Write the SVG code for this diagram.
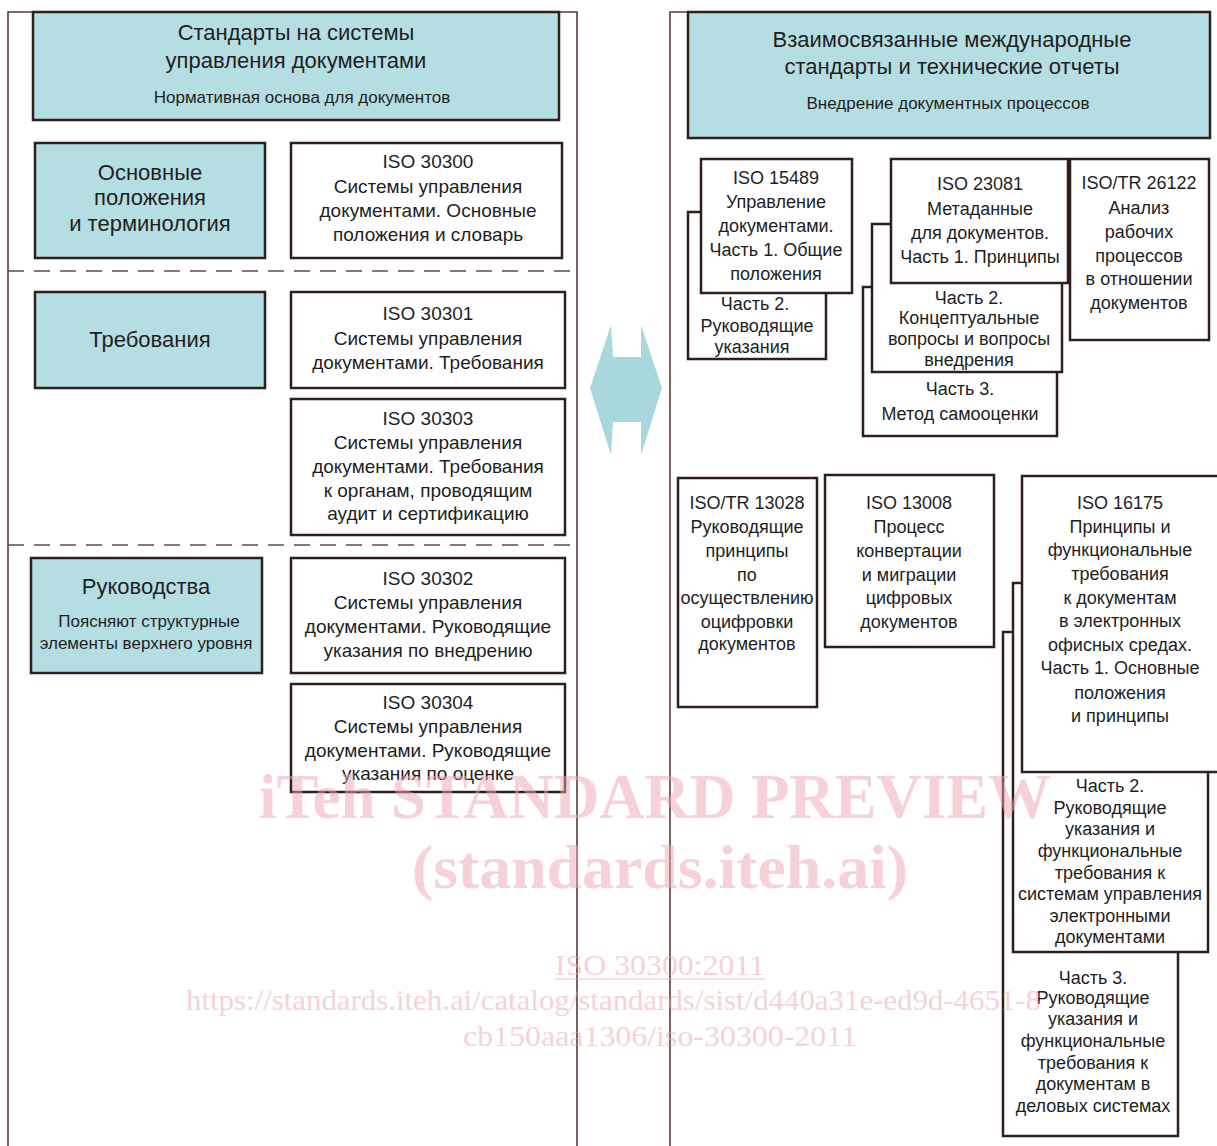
<svg xmlns="http://www.w3.org/2000/svg" width="1217" height="1146" viewBox="0 0 1217 1146">
<style>
.bg{fill:#ffffff}
.frame{fill:none;stroke:#5a3a34;stroke-width:1.6}
.dash{fill:none;stroke:#5a4c4a;stroke-width:1.6;stroke-dasharray:16 10}
.teal{fill:#b5dee2;stroke:#2e1f1c;stroke-width:2.5}
.box{fill:#ffffff;stroke:#2e1f1c;stroke-width:2.5}
text{font-family:"Liberation Sans",Arial,sans-serif;fill:#1e1e1e;text-anchor:middle}
.h{font-size:22px}
.s{font-size:17px}
.t{font-size:19px}
.r{font-size:18px}
.arrow{fill:#a8d8dd}
.wm{font-family:"Liberation Serif","Times New Roman",serif;fill:#eea7b2;opacity:0.5}
.wmb{font-weight:bold}
</style>
<rect class="bg" x="0" y="0" width="1217" height="1146"/>

<g id="frames">
  <path class="frame" d="M8,1146 V12 H33"/>
  <path class="frame" d="M559,12 H577 V1146"/>
  <path class="frame" d="M670,1146 V12 H688"/>
  <line class="dash" x1="8" y1="271" x2="577" y2="271"/>
  <line class="dash" x1="8" y1="545" x2="577" y2="545"/>
</g>

<g id="left-header">
  <rect class="teal" x="33" y="12" width="526" height="108"/>
  <text class="h" x="296" y="40">Стандарты на системы</text>
  <text class="h" x="296" y="68">управления документами</text>
  <text class="s" x="302" y="103">Нормативная основа для документов</text>
</g>

<g id="basics">
  <rect class="teal" x="35" y="143" width="230" height="115"/>
  <text class="h" x="150" y="180">Основные</text>
  <text class="h" x="150" y="205">положения</text>
  <text class="h" x="150" y="231">и терминология</text>
</g>

<g id="iso30300">
  <rect class="box" x="291" y="143" width="271" height="115"/>
  <text class="t" x="428" y="168">ISO 30300</text>
  <text class="t" x="428" y="193">Системы управления</text>
  <text class="t" x="428" y="217">документами. Основные</text>
  <text class="t" x="428" y="241">положения и словарь</text>
</g>

<g id="requirements">
  <rect class="teal" x="35" y="292" width="230" height="96"/>
  <text class="h" x="150" y="347">Требования</text>
</g>

<g id="iso30301">
  <rect class="box" x="291" y="292" width="274" height="96"/>
  <text class="t" x="428" y="320">ISO 30301</text>
  <text class="t" x="428" y="345">Системы управления</text>
  <text class="t" x="428" y="369">документами. Требования</text>
</g>

<g id="iso30303">
  <rect class="box" x="291" y="399" width="274" height="136"/>
  <text class="t" x="428" y="425">ISO 30303</text>
  <text class="t" x="428" y="449">Системы управления</text>
  <text class="t" x="428" y="473">документами. Требования</text>
  <text class="t" x="428" y="497">к органам, проводящим</text>
  <text class="t" x="428" y="520">аудит и сертификацию</text>
</g>

<g id="guides">
  <rect class="teal" x="31" y="558" width="231" height="115"/>
  <text class="h" x="146" y="594">Руководства</text>
  <text class="s" x="149" y="627">Поясняют структурные</text>
  <text class="s" x="146" y="649">элементы верхнего уровня</text>
</g>

<g id="iso30302">
  <rect class="box" x="291" y="558" width="274" height="115"/>
  <text class="t" x="428" y="585">ISO 30302</text>
  <text class="t" x="428" y="609">Системы управления</text>
  <text class="t" x="428" y="633">документами. Руководящие</text>
  <text class="t" x="428" y="657">указания по внедрению</text>
</g>

<g id="iso30304">
  <rect class="box" x="291" y="684" width="274" height="108"/>
  <text class="t" x="428" y="709">ISO 30304</text>
  <text class="t" x="428" y="733">Системы управления</text>
  <text class="t" x="428" y="757">документами. Руководящие</text>
  <text class="t" x="428" y="780">указания по оценке</text>
</g>

<g id="right-header">
  <rect class="teal" x="688" y="12" width="522" height="126"/>
  <text class="h" x="952" y="47">Взаимосвязанные международные</text>
  <text class="h" x="952" y="74">стандарты и технические отчеты</text>
  <text class="s" x="948" y="109">Внедрение документных процессов</text>
</g>

<g id="iso15489-part2">
  <rect class="box" x="688" y="212" width="138" height="147"/>
  <text class="r" x="755" y="310">Часть 2.</text>
  <text class="r" x="757" y="332">Руководящие</text>
  <text class="r" x="752" y="353">указания</text>
</g>
<g id="iso15489">
  <rect class="box" x="701" y="159" width="151" height="134"/>
  <text class="r" x="776" y="184">ISO 15489</text>
  <text class="r" x="776" y="208">Управление</text>
  <text class="r" x="776" y="232">документами.</text>
  <text class="r" x="776" y="256">Часть 1. Общие</text>
  <text class="r" x="776" y="280">положения</text>
</g>

<g id="iso23081-part3">
  <rect class="box" x="863" y="287" width="194" height="149"/>
  <text class="r" x="960" y="395">Часть 3.</text>
  <text class="r" x="960" y="420">Метод самооценки</text>
</g>
<g id="iso23081-part2">
  <rect class="box" x="872" y="224" width="190" height="148"/>
  <text class="r" x="969" y="304">Часть 2.</text>
  <text class="r" x="969" y="324">Концептуальные</text>
  <text class="r" x="969" y="345">вопросы и вопросы</text>
  <text class="r" x="969" y="366">внедрения</text>
</g>
<g id="iso23081">
  <rect class="box" x="891" y="159" width="177" height="124"/>
  <text class="r" x="980" y="190">ISO 23081</text>
  <text class="r" x="980" y="215">Метаданные</text>
  <text class="r" x="980" y="239">для документов.</text>
  <text class="r" x="980" y="263">Часть 1. Принципы</text>
</g>

<g id="isotr26122">
  <rect class="box" x="1070" y="159" width="139" height="181"/>
  <text class="r" x="1139" y="189">ISO/TR 26122</text>
  <text class="r" x="1139" y="214">Анализ</text>
  <text class="r" x="1139" y="238">рабочих</text>
  <text class="r" x="1139" y="262">процессов</text>
  <text class="r" x="1139" y="285">в отношении</text>
  <text class="r" x="1139" y="309">документов</text>
</g>

<g id="isotr13028">
  <rect class="box" x="678" y="478" width="139" height="229"/>
  <text class="r" x="747" y="509">ISO/TR 13028</text>
  <text class="r" x="747" y="533">Руководящие</text>
  <text class="r" x="747" y="557">принципы</text>
  <text class="r" x="747" y="581">по</text>
  <text class="r" x="747" y="604">осуществлению</text>
  <text class="r" x="747" y="628">оцифровки</text>
  <text class="r" x="747" y="650">документов</text>
</g>

<g id="iso13008">
  <rect class="box" x="825" y="475" width="169" height="172"/>
  <text class="r" x="909" y="509">ISO 13008</text>
  <text class="r" x="909" y="533">Процесс</text>
  <text class="r" x="909" y="557">конвертации</text>
  <text class="r" x="909" y="581">и миграции</text>
  <text class="r" x="909" y="604">цифровых</text>
  <text class="r" x="909" y="628">документов</text>
</g>

<g id="iso16175-part3">
  <rect class="box" x="1003" y="632" width="175" height="504"/>
  <text class="r" x="1093" y="984">Часть 3.</text>
  <text class="r" x="1093" y="1004">Руководящие</text>
  <text class="r" x="1093" y="1025">указания и</text>
  <text class="r" x="1093" y="1047">функциональные</text>
  <text class="r" x="1093" y="1069">требования к</text>
  <text class="r" x="1093" y="1090">документам в</text>
  <text class="r" x="1093" y="1112">деловых системах</text>
</g>
<g id="iso16175-part2">
  <rect class="box" x="1013" y="583" width="195" height="369"/>
  <text class="r" x="1110" y="792">Часть 2.</text>
  <text class="r" x="1110" y="814">Руководящие</text>
  <text class="r" x="1110" y="835">указания и</text>
  <text class="r" x="1110" y="857">функциональные</text>
  <text class="r" x="1110" y="879">требования к</text>
  <text class="r" x="1110" y="900">системам управления</text>
  <text class="r" x="1110" y="922">электронными</text>
  <text class="r" x="1110" y="943">документами</text>
</g>
<g id="iso16175">
  <rect class="box" x="1022" y="476" width="197" height="296"/>
  <text class="r" x="1120" y="509">ISO 16175</text>
  <text class="r" x="1120" y="533">Принципы и</text>
  <text class="r" x="1120" y="556">функциональные</text>
  <text class="r" x="1120" y="580">требования</text>
  <text class="r" x="1120" y="604">к документам</text>
  <text class="r" x="1120" y="627">в электронных</text>
  <text class="r" x="1120" y="651">офисных средах.</text>
  <text class="r" x="1120" y="674">Часть 1. Основные</text>
  <text class="r" x="1120" y="699">положения</text>
  <text class="r" x="1120" y="722">и принципы</text>
</g>

<g id="connectors">
  <polygon class="arrow" points="611,325 613,357 641,357 641,325 662,388 641,455 641,422 613,422 611,455 590,388"/>
</g>

<g id="watermark">
  <text class="wm wmb" x="655" y="818" font-size="64" textLength="792" lengthAdjust="spacingAndGlyphs">iTeh STANDARD PREVIEW</text>
  <text class="wm wmb" x="660" y="888" font-size="62" textLength="496" lengthAdjust="spacingAndGlyphs">(standards.iteh.ai)</text>
  <text class="wm" x="660" y="975" font-size="30" textLength="210" lengthAdjust="spacingAndGlyphs">ISO 30300:2011</text>
  <line x1="555" y1="979" x2="765" y2="979" stroke="#eea7b2" stroke-width="1.5" opacity="0.5"/>
  <text class="wm" x="186" y="1010" font-size="30" text-anchor="start" style="text-anchor:start" textLength="855" lengthAdjust="spacingAndGlyphs">https://standards.iteh.ai/catalog/standards/sist/d440a31e-ed9d-4651-8</text>
  <text class="wm" x="660" y="1046" font-size="30" textLength="394" lengthAdjust="spacingAndGlyphs">cb150aaa1306/iso-30300-2011</text>
</g>
</svg>
